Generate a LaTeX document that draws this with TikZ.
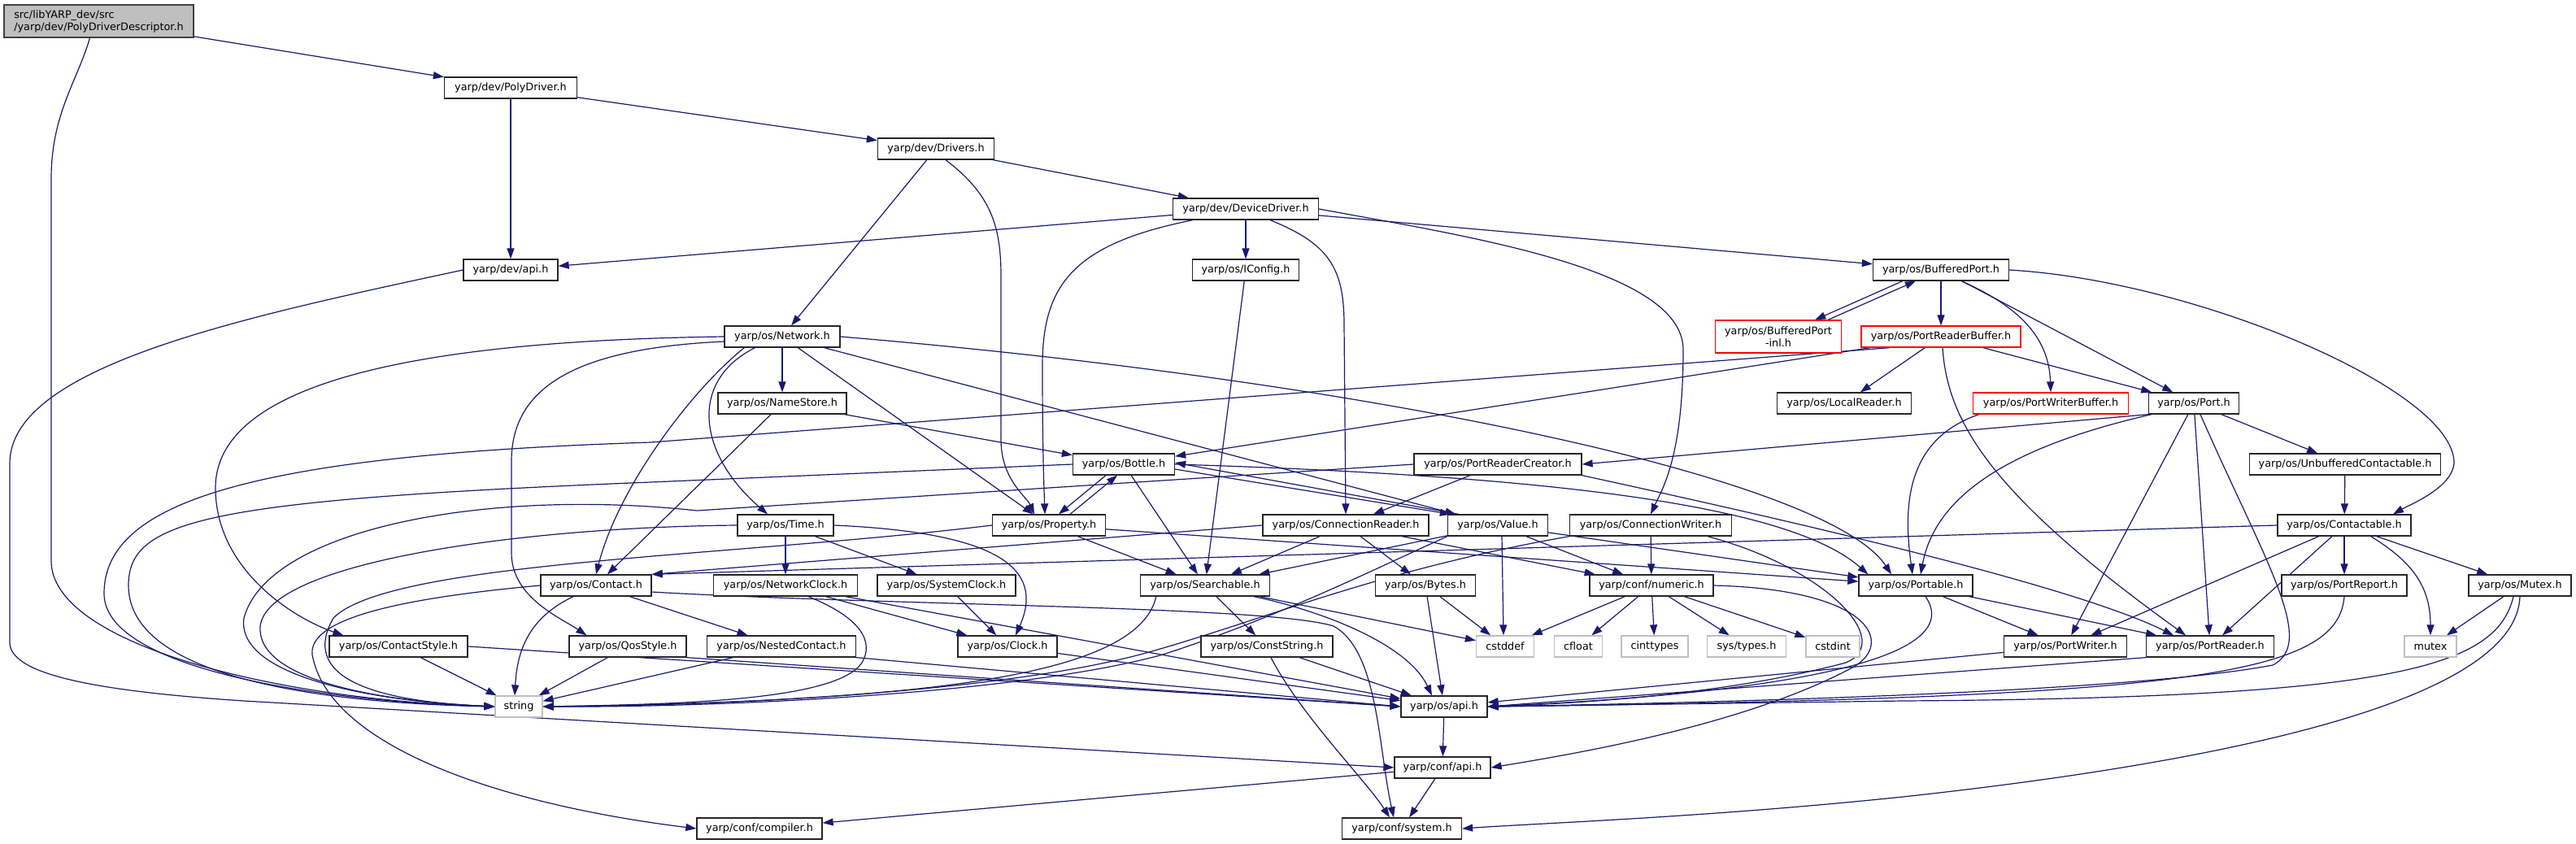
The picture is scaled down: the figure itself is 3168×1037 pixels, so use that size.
\documentclass[tikz,border=0pt]{standalone}
\usepackage{fontspec}
\newfontfamily\dxfont{DejaVu Sans}
\usetikzlibrary{arrows.meta,positioning,calc,backgrounds}
\definecolor{edgeblue}{HTML}{191970}
\definecolor{boxgray}{HTML}{BFBFBF}
\definecolor{rootline}{HTML}{404040}
\definecolor{truncred}{HTML}{FF0000}

\begin{document}
\begin{tikzpicture}[x=1pt, y=-1pt,
    file/.style={draw=black!85, fill=white, line width=1.3pt, minimum height=26pt,
                 minimum width=#1pt, inner sep=0pt,
                 font=\dxfont\fontsize{12.8pt}{15pt}\selectfont},
    trunc/.style={file=#1, draw=truncred, minimum height=40pt, align=center},
    sys/.style={file=#1, draw=boxgray},
    root/.style={file=#1, fill=boxgray, draw=rootline, minimum height=40pt, align=left},
    dep/.style={-{Triangle[length=13pt,width=9pt]}, edgeblue, line width=1.2pt}
  ]
    \useasboundingbox (0,0) rectangle (3168,1037);

    % dev layer
    \node[root=233] (pdd) at (121.5,26) {src/libYARP\_dev/src\\/yarp/dev/PolyDriverDescriptor.h};
    \node[file=163] (polydrv) at (628,108) {yarp/dev/PolyDriver.h};
    \node[file=143] (drivers) at (1151,183) {yarp/dev/Drivers.h};
    \node[file=179] (devdrv) at (1532,257) {yarp/dev/DeviceDriver.h};
    \node[file=116] (devapi) at (628,332) {yarp/dev/api.h};
    \node[file=131] (iconfig) at (1532,332) {yarp/os/IConfig.h};
    \node[file=167] (bufport) at (2387,332) {yarp/os/BufferedPort.h};

    % network / ports
    \node[file=142] (network) at (962,414) {yarp/os/Network.h};
    \node[trunc=155] (bpinl) at (2187,414) {yarp/os/BufferedPort\\-inl.h};
    \node[file=196, draw=truncred] (prb) at (2387,414) {yarp/os/PortReaderBuffer.h};
    \node[file=158] (namestore) at (962,496) {yarp/os/NameStore.h};
    \node[file=165] (localreader) at (2268,496) {yarp/os/LocalReader.h};
    \node[file=191, draw=truncred] (pwb) at (2522,496) {yarp/os/PortWriterBuffer.h};
    \node[file=111] (port) at (2698,496) {yarp/os/Port.h};
    \node[file=125] (bottle) at (1382,571) {yarp/os/Bottle.h};
    \node[file=206] (prc) at (1842,571) {yarp/os/PortReaderCreator.h};
    \node[file=235] (unbuf) at (2884,571) {yarp/os/UnbufferedContactable.h};

    % middle row
    \node[file=118] (time) at (966,646) {yarp/os/Time.h};
    \node[file=139] (property) at (1290,646) {yarp/os/Property.h};
    \node[file=204] (connreader) at (1655,646) {yarp/os/ConnectionReader.h};
    \node[file=123] (value) at (1842,646) {yarp/os/Value.h};
    \node[file=199] (connwriter) at (2030,646) {yarp/os/ConnectionWriter.h};
    \node[file=164] (contactable) at (2883,646) {yarp/os/Contactable.h};

    \node[file=136] (contact) at (733,720) {yarp/os/Contact.h};
    \node[file=177] (netclock) at (966,720) {yarp/os/NetworkClock.h};
    \node[file=170] (sysclock) at (1164,720) {yarp/os/SystemClock.h};
    \node[file=159] (searchable) at (1482,720) {yarp/os/Searchable.h};
    \node[file=123] (bytes) at (1753,720) {yarp/os/Bytes.h};
    \node[file=152] (numeric) at (2031,720) {yarp/conf/numeric.h};
    \node[file=140] (portable) at (2356,720) {yarp/os/Portable.h};
    \node[file=154] (portreport) at (2883,720) {yarp/os/PortReport.h};
    \node[file=126] (mutexh) at (3099,720) {yarp/os/Mutex.h};

    \node[file=170] (contactstyle) at (490,795) {yarp/os/ContactStyle.h};
    \node[file=144] (qosstyle) at (772,795) {yarp/os/QosStyle.h};
    \node[file=183] (nested) at (961,795) {yarp/os/NestedContact.h};
    \node[file=122] (clock) at (1239,795) {yarp/os/Clock.h};
    \node[file=162] (conststring) at (1558,795) {yarp/os/ConstString.h};
    \node[sys=71] (cstddef) at (1851,795) {cstddef};
    \node[sys=59] (cfloat) at (1941,795) {cfloat};
    \node[sys=82] (cinttypes) at (2035,795) {cinttypes};
    \node[sys=97] (systypes) at (2148,795) {sys/types.h};
    \node[sys=66] (cstdint) at (2254,795) {cstdint};
    \node[file=151] (portwriter) at (2540,795) {yarp/os/PortWriter.h};
    \node[file=157] (portreader) at (2718,795) {yarp/os/PortReader.h};
    \node[sys=64] (mutex) at (2989,795) {mutex};

    % bottom
    \node[sys=58] (string) at (638,869) {string};
    \node[file=106] (osapi) at (1776,869) {yarp/os/api.h};
    \node[file=118] (confapi) at (1774,944) {yarp/conf/api.h};
    \node[file=154] (compiler) at (934,1019) {yarp/conf/compiler.h};
    \node[file=147] (system) at (1724,1019) {yarp/conf/system.h};

    \begin{scope}[on background layer]
      \fill[white] (0,0) rectangle (3168,1037);

      % root and dev layer
      \draw[dep] (pdd) -- (polydrv);
      \draw[dep] ($(pdd.south)+(-11,0)$) .. controls (95,100) and (63,140) .. (63,220) -- (63,690) .. controls (63,790) and (330,860) .. (string.west);
      \draw[dep] (polydrv) -- (drivers);
      \draw[dep] (polydrv) -- (devapi);
      \draw[dep] (drivers) -- (devdrv);
      \draw[dep] (drivers) -- (network);
      \draw[dep] ($(drivers.south)+(12,0)$) .. controls (1220,240) and (1231,280) .. (1231,340) -- (1231,540) .. controls (1231,590) and (1262,610) .. ($(property.north)+(-18,0)$);
      \draw[dep] (devdrv) -- (devapi);
      \draw[dep] (devdrv) -- (iconfig);
      \draw[dep] ($(devdrv.south west)+(25,0)$) .. controls (1320,300) and (1282,350) .. (1282,450) .. controls (1282,560) and (1284,600) .. ($(property.north)+(-5,0)$);
      \draw[dep] ($(devdrv.south)+(30,0)$) .. controls (1635,300) and (1653,330) .. (1653,400) -- (connreader.north);
      \draw[dep] (devdrv.east) .. controls (1800,290) and (2070,330) .. (2070,430) .. controls (2070,560) and (2045,600) .. (connwriter.north);
      \draw[dep] (devdrv) -- (bufport);
      \draw[dep] (devapi.west) .. controls (300,390) and (12,450) .. (12,570) -- (12,790) .. controls (12,830) and (120,850) .. (300,862) -- (confapi.west);
      \draw[dep] (iconfig) -- (searchable);

      % buffered port
      \draw[dep] ($(bufport.south west)+(37,0)$) -- ($(bpinl.north east)+(-33,0)$);
      \draw[dep] ($(bpinl.north east)+(-17,0)$) -- ($(bufport.south west)+(53,0)$);
      \draw[dep] (bufport) -- (prb);
      \draw[dep] ($(bufport.south)+(25,0)$) .. controls (2490,380) and (2520,420) .. (pwb.north);
      \draw[dep] (bufport) -- (port);
      \draw[dep] (bufport.east) .. controls (2700,345) and (3020,480) .. (3018,570) .. controls (3015,600) and (2965,620) .. ($(contactable.north)+(60,0)$);
      \draw[dep] (prb) -- (localreader);
      \draw[dep] (prb) -- (port);
      \draw[dep] ($(prb.south)+(2,0)$) .. controls (2395,520) and (2450,610) .. ($(portreader.north)+(-30,0)$);
      \draw[dep] (prb) -- (bottle);
      \draw[dep] ($(prb.south west)+(36,0)$) -- (800,544) .. controls (300,560) and (128,620) .. (128,730) .. controls (128,820) and (380,862) .. (string.west);
      \draw[dep] ($(pwb.south west)+(8,0)$) .. controls (2345,540) and (2340,620) .. ($(portable.north)+(-4,0)$);

      % port
      \draw[dep] (port.south west) -- (prc.east);
      \draw[dep] (port) -- (unbuf);
      \draw[dep] ($(port.south west)+(4,0)$) .. controls (2470,550) and (2380,610) .. ($(portable.north)+(6,0)$);
      \draw[dep] (port) -- (portwriter);
      \draw[dep] (port) -- (portreader);
      \draw[dep] ($(port.south)+(8,0)$) .. controls (2785,690) and (2850,790) .. (2795,818) .. controls (2600,855) and (2000,866) .. (osapi.east);

      % contactable
      \draw[dep] (unbuf) -- (contactable);
      \draw[dep] (contactable.west) -- (contact.north east);
      \draw[dep] (contactable) -- (portwriter);
      \draw[dep] (contactable) -- (portreader);
      \draw[dep] (contactable) -- (portreport);
      \draw[dep] ($(contactable.south east)+(-50,0)$) .. controls (2965,690) and (2989,720) .. (mutex.north);
      \draw[dep] (contactable) -- (mutexh);
      \draw[dep] (portreport.south) .. controls (2875,830) and (2700,858) .. (osapi.east);
      \draw[dep] (mutexh) -- (mutex);
      \draw[dep] ($(mutexh.south)+(-8,0)$) .. controls (3070,820) and (2950,858) .. (2340,862) -- (osapi.east);
      \draw[dep] (mutexh.south) .. controls (3095,850) and (2800,930) .. (2340,980) .. controls (2100,1005) and (1900,1012) .. (system.east);

      % portable, reader, writer
      \draw[dep] (portable) -- (portwriter);
      \draw[dep] (portable) -- (portreader);
      \draw[dep] ($(portable.south)+(12,0)$) .. controls (2420,810) and (2200,852) .. (osapi.east);
      \draw[dep] (portwriter) -- (osapi);
      \draw[dep] (portreader.south west) -- (osapi.east);

      % network
      \draw[dep] (network) -- (namestore);
      \draw[dep] ($(network.south west)+(38,0)$) .. controls (845,470) and (860,560) .. ($(time.north)+(-22,0)$);
      \draw[dep] (network) -- (property);
      \draw[dep] ($(network.south west)+(25,0)$) .. controls (850,480) and (760,600) .. (contact.north);
      \draw[dep] (network.west) .. controls (600,418) and (265,450) .. (265,600) .. controls (265,700) and (360,760) .. ($(contactstyle.north west)+(18,0)$);
      \draw[dep] ($(network.west)+(0,6)$) .. controls (720,428) and (629,470) .. (629,567) -- (629,680) .. controls (629,735) and (690,760) .. ($(qosstyle.north west)+(22,0)$);
      \draw[dep] (network) -- (value);
      \draw[dep] (network.east) .. controls (1700,470) and (2250,590) .. ($(portable.north)+(-30,0)$);
      \draw[dep] (namestore) -- (bottle);
      \draw[dep] (namestore) -- (contact);

      % bottle, property, value
      \draw[dep] ($(bottle.south)+(-22,0)$) -- ($(property.north)+(12,0)$);
      \draw[dep] ($(property.north)+(26,0)$) -- ($(bottle.south)+(-8,0)$);
      \draw[dep] ($(bottle.east)+(0,6)$) -- ($(value.north west)+(4,0)$);
      \draw[dep] ($(value.north west)+(14,0)$) -- ($(bottle.east)+(0,-2)$);
      \draw[dep] (bottle) -- (searchable);
      \draw[dep] (bottle.west) -- (800,593) .. controls (250,615) and (158,640) .. (158,720) .. controls (158,830) and (380,864) .. (string.west);
      \draw[dep] (bottle.east) .. controls (1900,585) and (2200,620) .. ($(portable.north west)+(12,0)$);
      \draw[dep] (property) -- (searchable);
      \draw[dep] (property.west) .. controls (900,685) and (480,690) .. (410,760) .. controls (370,830) and (450,862) .. (string.west);
      \draw[dep] (property) -- (portable);
      \draw[dep] (value) -- (searchable);
      \draw[dep] ($(value.south)+(5,0)$) -- ($(cstddef.north)+(-2,0)$);
      \draw[dep] (value) -- (numeric);
      \draw[dep] (value) -- (portable);
      \draw[dep] (value.south west) .. controls (1690,700) and (1570,760) .. (1430,805) .. controls (1260,852) and (900,870) .. (string.east);

      % reader / writer / creator
      \draw[dep] (prc) -- (connreader);
      \draw[dep] (prc.west) -- (857,628) .. controls (600,600) and (330,650) .. (300,760) .. controls (290,830) and (450,862) .. (string.west);
      \draw[dep] (prc.south east) .. controls (2200,640) and (2550,720) .. ($(portreader.north)+(-45,0)$);
      \draw[dep] (connreader) -- (searchable);
      \draw[dep] (connreader) -- (bytes);
      \draw[dep] (connreader) -- (numeric);
      \draw[dep] (connreader.west) -- (contact.north east);
      \draw[dep] (connwriter) -- (numeric);
      \draw[dep] (connwriter.south west) .. controls (1700,700) and (1560,760) .. (1420,800) .. controls (1250,850) and (900,868) .. (string.east);
      \draw[dep] ($(connwriter.south east)+(-30,0)$) .. controls (2250,700) and (2330,790) .. (2270,815) .. controls (2100,860) and (1900,866) .. (osapi.east);

      % time and clocks
      \draw[dep] (time) -- (netclock);
      \draw[dep] (time) -- (sysclock);
      \draw[dep] (time.east) .. controls (1230,655) and (1285,700) .. ($(clock.north)+(10,0)$);
      \draw[dep] (time.west) .. controls (650,648) and (330,690) .. (320,770) .. controls (315,835) and (460,862) .. (string.west);
      \draw[dep] (netclock) -- (clock);
      \draw[dep] (netclock) -- (osapi);
      \draw[dep] ($(netclock.south)+(28,0)$) .. controls (1060,760) and (1075,790) .. (1060,815) .. controls (1030,860) and (850,866) .. (string.east);
      \draw[dep] (sysclock) -- (clock);
      \draw[dep] (clock) -- (osapi);

      % contact
      \draw[dep] (contact) -- (nested);
      \draw[dep] ($(contact.south)+(-28,0)$) .. controls (650,760) and (636,800) .. ($(string.north)+(-5,0)$);
      \draw[dep] ($(contact.east)+(0,8)$) .. controls (1100,745) and (1560,745) .. (1640,770) .. controls (1695,800) and (1695,920) .. ($(system.north)+(-10,0)$);
      \draw[dep] (contact.west) .. controls (500,735) and (370,760) .. (385,810) .. controls (410,920) and (620,990) .. (compiler.west);
      \draw[dep] (contactstyle) -- (string);
      \draw[dep] (contactstyle.east) -- (osapi.west);
      \draw[dep] (qosstyle) -- (string);
      \draw[dep] (qosstyle.south east) -- (osapi.west);
      \draw[dep] (nested) -- (string);
      \draw[dep] (nested.south east) -- (osapi.west);

      % searchable and below
      \draw[dep] (searchable) -- (conststring);
      \draw[dep] (searchable) -- (cstddef);
      \draw[dep] ($(searchable.south east)+(-20,0)$) .. controls (1620,750) and (1730,790) .. ($(osapi.north)+(-15,0)$);
      \draw[dep] ($(searchable.south west)+(20,0)$) .. controls (1400,830) and (1150,862) .. (string.east);
      \draw[dep] (conststring) -- (osapi);
      \draw[dep] ($(conststring.south)+(5,0)$) .. controls (1600,880) and (1680,960) .. ($(system.north)+(-15,0)$);
      \draw[dep] (bytes) -- (cstddef);
      \draw[dep] (bytes) -- (osapi);
      \draw[dep] (numeric) -- (cstddef);
      \draw[dep] (numeric) -- (cfloat);
      \draw[dep] (numeric) -- (cinttypes);
      \draw[dep] (numeric) -- (systypes);
      \draw[dep] (numeric) -- (cstdint);
      \draw[dep] (numeric.east) .. controls (2300,725) and (2330,790) .. (2280,820) .. controls (2150,890) and (1950,925) .. (confapi.east);
      \draw[dep] (osapi) -- (confapi);
      \draw[dep] (confapi) -- (compiler);
      \draw[dep] (confapi) -- (system);
    \end{scope}
  \end{tikzpicture}
\end{document}
